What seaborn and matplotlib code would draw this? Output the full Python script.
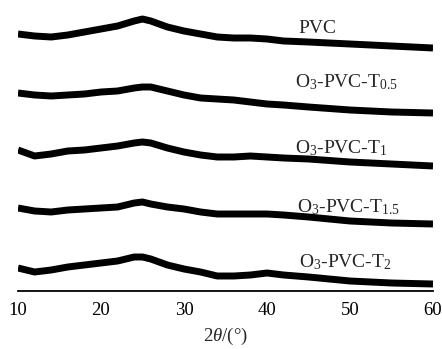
import matplotlib
matplotlib.use("Agg")
import matplotlib.pyplot as plt
import seaborn as sns
import pandas as pd

two_theta = [10, 12, 14, 16, 18, 20, 22, 24, 25, 26, 28, 30, 32, 34, 36, 38, 40, 42, 45, 50, 55, 60]
pvc    = [257, 255, 254, 256, 259, 262, 265, 270, 272, 270, 264, 260, 257, 254, 253, 253, 252, 250, 249, 247, 245, 243]
t05    = [198, 196, 195, 196, 197, 199, 200, 203, 204, 204, 200, 196, 193, 192, 191, 189, 187, 186, 184, 181, 179, 178]
t1     = [141, 135, 137, 140, 141, 143, 145, 148, 149, 148, 143, 139, 136, 134, 134, 135, 134, 133, 132, 129, 127, 125]
t15    = [83, 80, 79, 81, 82, 83, 84, 88, 89, 87, 84, 82, 79, 77, 77, 77, 77, 76, 74, 70, 68, 67]
t2     = [23, 19, 21, 24, 26, 28, 30, 34, 34, 32, 26, 22, 19, 15, 15, 16, 18, 16, 14, 10, 8, 7]

series_names = ["PVC", "O$_3$-PVC-T$_{0.5}$", "O$_3$-PVC-T$_1$", "O$_3$-PVC-T$_{1.5}$", "O$_3$-PVC-T$_2$"]
series_vals = [pvc, t05, t1, t15, t2]
label_pos = [(298, 33), (295, 87), (295, 153), (297, 212), (299, 267)]  # pixel positions (left, baseline)

x_ticks = [10, 20, 30, 40, 50, 60]

sns.set_style("white")
plt.rcParams["font.family"] = ["Liberation Serif", "DejaVu Serif"]
plt.rcParams["mathtext.fontset"] = "custom"
plt.rcParams["mathtext.rm"] = "Liberation Serif"
plt.rcParams["mathtext.it"] = "Liberation Serif:italic"

W, H = 442, 349
fig = plt.figure(figsize=(W / 100, H / 100), dpi=100)
ax_left, ax_right, ax_bottom_px = 18, 433, 291
ax = fig.add_axes([ax_left / W, (H - ax_bottom_px) / H, (ax_right - ax_left) / W, ax_bottom_px / H])

rows = []
for name, vals in zip(series_names, series_vals):
    for x, y in zip(two_theta, vals):
        rows.append({"x": x, "y": y, "s": name})
df = pd.DataFrame(rows)

for name in series_names:
    sns.lineplot(data=df[df["s"] == name], x="x", y="y", color="black", lw=5.0,
                 ax=ax, legend=False, solid_joinstyle="round", solid_capstyle="butt")

ax.set_xlim(10, 60)
ax.set_ylim(0, ax_bottom_px)
ax.set_xticks(x_ticks)
ax.set_yticks([])
for s in ["left", "right", "top"]:
    ax.spines[s].set_visible(False)
ax.spines["bottom"].set_linewidth(1.3)
ax.spines["bottom"].set_color("black")
ax.tick_params(axis="x", direction="in", length=5, width=1.2, labelsize=13.5, pad=8, colors="black")
ax.set_xlabel(r"2$\it{\theta}$/(°)", fontsize=13.5, labelpad=5)
ax.set_ylabel("")

for name, (px, py) in zip(series_names, label_pos):
    fig.text(px / W, 1 - py / H, name, fontsize=14, ha="left", va="baseline")

fig.savefig("out.png", dpi=100)
